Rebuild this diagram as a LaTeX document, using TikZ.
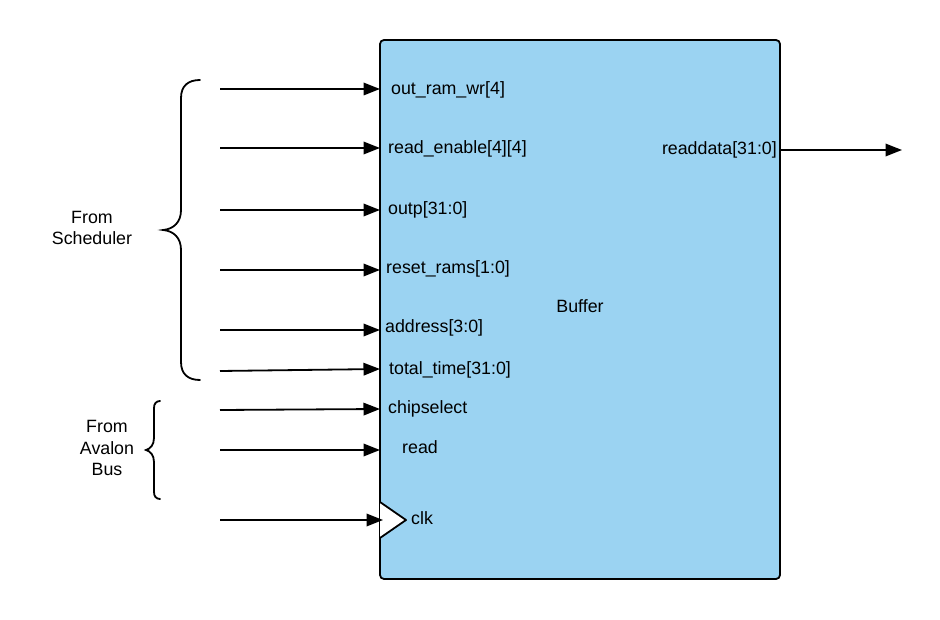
\documentclass[tikz,border=0pt]{standalone}
\usepackage{fontspec}
\setmainfont{Liberation Sans}
\usetikzlibrary{arrows.meta}
\definecolor{bufblue}{RGB}{155,211,242}
\tikzset{
  wire/.style={line width=1.8pt,-{Triangle[length=16.5pt,width=12.5pt]}},
  port/.style={anchor=base west,inner sep=0pt,font=\fontsize{17.8}{21.5}\selectfont},
  lbl/.style={inner sep=0pt,align=center,font=\fontsize{17.8}{21.5}\selectfont},
  brace/.style={line width=1.8pt,line cap=round}
}
\begin{document}
\begin{tikzpicture}[x=1pt,y=-1pt]
\useasboundingbox (0,0) rectangle (940,620);
% main block
\draw[line width=1.8pt,fill=bufblue,rounded corners=4pt] (380,40) rectangle (780,579);
\node[lbl,anchor=base] (buffer) at (580,313) {Buffer};
% clock triangle
\draw[line width=1.8pt,fill=white,line join=round] (380,502) -- (406,520) -- (380,538);
% port labels
\node[port] (p1) at (391,95) {out\_ram\_wr[4]};
\node[port] (p2) at (388,154) {read\_enable[4][4]};
\node[port] (p3) at (388,215) {outp[31:0]};
\node[port] (p4) at (386,274) {reset\_rams[1:0]};
\node[port] (p5) at (385,333) {address[3:0]};
\node[port] (p6) at (389,374) {total\_time[31:0]};
\node[port] (p7) at (388,413) {chipselect};
\node[port] (p8) at (402,453) {read};
\node[port] (p9) at (411,524) {clk};
\node[port,anchor=base east] (pout) at (777,155) {readdata[31:0]};
% connector end points
\coordinate (s1) at (220,89);  \coordinate (e1) at (380,89);
\coordinate (s2) at (220,148); \coordinate (e2) at (380,148);
\coordinate (s3) at (220,210); \coordinate (e3) at (380,210);
\coordinate (s4) at (220,270); \coordinate (e4) at (380,270);
\coordinate (s5) at (220,330); \coordinate (e5) at (380,330);
\coordinate (s6) at (220,371); \coordinate (e6) at (380,369);
\coordinate (s7) at (220,410); \coordinate (e7) at (380,409);
\coordinate (s8) at (220,450); \coordinate (e8) at (380,450);
\coordinate (s9) at (220,520); \coordinate (e9) at (383,520);
\coordinate (so) at (780,150); \coordinate (eo) at (902,150);
\foreach \i in {1,...,9} \draw[wire] (s\i) -- (e\i);
\draw[wire] (so) -- (eo);
% braces
\draw[brace] (200,80) .. controls (188,80) and (181,86) .. (181,98) -- (181,210)
  .. controls (181,222) and (174,229) .. (163,230)
  .. controls (174,231) and (181,238) .. (181,250) -- (181,362)
  .. controls (181,374) and (188,380) .. (200,380);
\draw[brace] (160,401) .. controls (156,401) and (154,404) .. (154,408) -- (154,438)
  .. controls (154,445) and (150,449) .. (146,450)
  .. controls (150,451) and (154,455) .. (154,462) -- (154,492)
  .. controls (154,496) and (156,499) .. (160,499);
% group labels
\node[lbl] (sched) at (92,228) {From\\Scheduler};
\node[lbl] (avalon) at (107,448) {From\\Avalon\\Bus};
\end{tikzpicture}
\end{document}
